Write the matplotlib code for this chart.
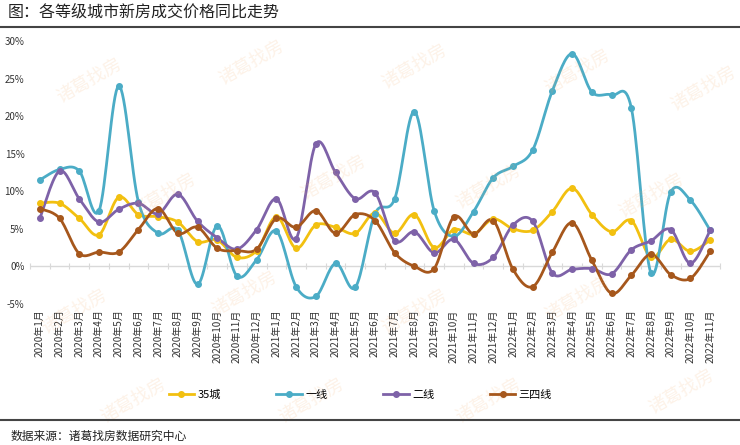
import numpy as np
import matplotlib
matplotlib.use("Agg")
import matplotlib.pyplot as plt
from matplotlib.lines import Line2D

plt.rcParams["font.family"] = ["Noto Sans CJK SC", "DejaVu Sans"]

# 月份标签
months = [f"2020年{m}月" for m in range(1, 13)] + \
         [f"2021年{m}月" for m in range(1, 13)] + \
         [f"2022年{m}月" for m in range(1, 12)]

# 同比 (%)
city35 = [8.4, 8.4, 6.4, 4.2, 9.2, 6.9, 6.6, 5.9, 3.3, 3.5, 1.2, 2.1,
          6.6, 2.4, 5.5, 5.2, 4.4, 7.1, 4.4, 6.9, 2.5, 4.9, 4.3, 6.3,
          5.0, 4.8, 7.3, 10.4, 6.9, 4.6, 6.1, 1.2, 3.6, 2.0, 3.5]
tier1 = [11.5, 12.9, 12.7, 7.4, 24.0, 8.6, 4.4, 4.8, -2.4, 5.4, -1.3, 0.9,
         4.7, -2.7, -4.0, 0.4, -2.8, 7.0, 9.0, 20.6, 7.4, 4.0, 7.3, 11.8,
         13.3, 15.5, 23.4, 28.3, 23.2, 22.8, 21.1, -0.9, 9.9, 8.8, 4.8]
tier2 = [6.4, 12.7, 9.0, 5.9, 7.6, 8.4, 7.0, 9.6, 6.0, 3.8, 2.3, 4.9,
         9.0, 3.7, 16.3, 12.5, 9.0, 9.8, 3.4, 4.6, 1.8, 3.6, 0.4, 1.2,
         5.5, 6.0, -0.9, -0.4, -0.3, -1.0, 2.2, 3.4, 4.9, 0.4, 4.8]
tier34 = [7.7, 6.4, 1.7, 1.9, 1.9, 4.9, 7.7, 4.4, 5.2, 2.4, 2.1, 2.3,
          6.4, 5.2, 7.4, 4.4, 6.9, 6.1, 1.8, 0.0, -0.3, 6.6, 4.3, 6.1,
          -0.4, -2.7, 1.9, 5.8, 0.8, -3.6, -1.2, 1.6, -1.1, -1.6, 2.0]

series = [("35城", city35, "#F2C010"),
          ("一线", tier1, "#4BACC6"),
          ("二线", tier2, "#7E62A8"),
          ("三四线", tier34, "#A6571C")]


def smooth(x, y, n=16):
    # 平滑曲线 (类似 Excel 的平滑线)
    x = np.asarray(x, float)
    y = np.asarray(y, float)
    px = np.concatenate([[x[0]], x, [x[-1]]])
    py = np.concatenate([[y[0]], y, [y[-1]]])
    t = np.linspace(0, 1, n, endpoint=False)
    xs, ys = [], []
    for i in range(1, len(px) - 2):
        x0, x1 = px[i], px[i + 1]
        y0, y1 = py[i], py[i + 1]
        cx1 = x0 + (px[i + 1] - px[i - 1]) / 6
        cy1 = y0 + (py[i + 1] - py[i - 1]) / 6
        cx2 = x1 - (px[i + 2] - px[i]) / 6
        cy2 = y1 - (py[i + 2] - py[i]) / 6
        a = (1 - t) ** 3
        b = 3 * (1 - t) ** 2 * t
        c = 3 * (1 - t) * t ** 2
        d = t ** 3
        xs.append(a * x0 + b * cx1 + c * cx2 + d * x1)
        ys.append(a * y0 + b * cy1 + c * cy2 + d * y1)
    xs.append([x[-1]])
    ys.append([y[-1]])
    return np.concatenate(xs), np.concatenate(ys)


fig = plt.figure(figsize=(7.4, 4.45), dpi=100)

# 水印
for wx, wy in [(0.12, 0.82), (0.34, 0.86), (0.56, 0.85), (0.78, 0.84), (0.95, 0.80),
               (0.22, 0.56), (0.45, 0.60), (0.66, 0.58), (0.88, 0.56),
               (0.10, 0.30), (0.33, 0.34), (0.56, 0.30), (0.78, 0.33),
               (0.18, 0.10), (0.42, 0.10), (0.66, 0.10), (0.92, 0.12)]:
    fig.text(wx, wy, "诸葛找房", fontsize=13, color="#F5B070", alpha=0.16,
             rotation=30, ha="center", va="center", zorder=0)

ax = fig.add_axes([0.0405, 0.317, 0.9325, 0.591])
ax.patch.set_alpha(0)

x = np.arange(len(months))
for name, vals, col in series:
    sx, sy = smooth(x, vals)
    ax.plot(sx, sy, color=col, lw=2.0, solid_capstyle="round", zorder=3)
    ax.plot(x, vals, "o", color=col, ms=4, zorder=4)

ax.axhline(0, color="#D9D9D9", lw=1.0, zorder=1)

ax.set_xlim(-0.5, len(months) - 0.5)
ax.set_ylim(-5, 30)
ax.set_yticks(range(-5, 31, 5))
ax.set_yticklabels([f"{v}%" for v in range(-5, 31, 5)], fontsize=7, color="#333333")
ax.set_xticks(x)
ax.set_xticklabels(months, rotation=90, fontsize=7.2, color="#333333")
ax.tick_params(axis="both", length=0, pad=4)
for s in ax.spines.values():
    s.set_visible(False)

# 零线上的刻度
sec = ax.secondary_xaxis(5 / 35)
sec.set_xticks(np.arange(-0.5, len(months), 1))
sec.set_xticklabels([])
sec.tick_params(length=5, direction="inout", color="#D9D9D9", width=0.8)
sec.spines["bottom"].set_visible(False)

# 图例
handles = [Line2D([], [], color=c, lw=2, marker="o", ms=4) for _, _, c in series]
fig.legend(handles, [n for n, _, _ in series], loc="center", ncol=4,
           bbox_to_anchor=(0.487, 0.112), frameon=False, fontsize=8,
           handlelength=2.3, columnspacing=5.0, handletextpad=0.3)

# 标题与来源
fig.text(0.011, 0.972, "图：各等级城市新房成交价格同比走势", fontsize=11.5,
         color="#222222", va="center", ha="left", fontweight="medium")
fig.add_artist(Line2D([0, 1], [0.94, 0.94], color="#444444", lw=1.5,
                      transform=fig.transFigure))
fig.add_artist(Line2D([0, 1], [0.056, 0.056], color="#444444", lw=1.5,
                      transform=fig.transFigure))
fig.text(0.014, 0.02, "数据来源：诸葛找房数据研究中心", fontsize=8.5,
         color="#222222", va="center", ha="left")

fig.savefig("out.png", dpi=100)
